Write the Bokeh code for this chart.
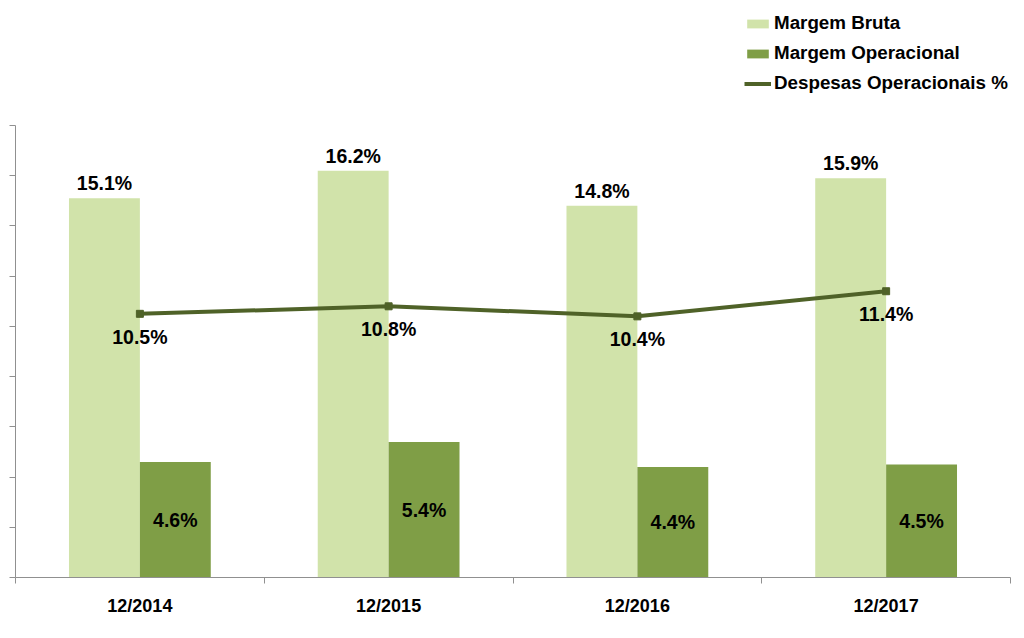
from bokeh.plotting import figure
from bokeh.models import ColumnDataSource, Range1d, FixedTicker, Legend, LegendItem
from bokeh.embed import file_html
from bokeh.resources import INLINE
from bokeh.core.properties import value

categories = ["12/2014", "12/2015", "12/2016", "12/2017"]
margem_bruta = [15.1, 16.2, 14.8, 15.9]
margem_operacional = [4.6, 5.4, 4.4, 4.5]
despesas_operacionais = [10.5, 10.8, 10.4, 11.4]
y_ticks = [0, 2, 4, 6, 8, 10, 12, 14, 16, 18]

FONT = "Liberation Sans"
LIGHT = "#D1E3AA"
DARK = "#7F9E46"
LINE = "#4F6228"
AXIS = "#909090"

n = len(categories)
bw = 0.285
centers = [i + 0.5 for i in range(n)]
src = ColumnDataSource(dict(
    xc=centers,
    xl=[c - bw / 2 for c in centers],
    xr=[c + bw / 2 for c in centers],
    mb=margem_bruta,
    mo=margem_operacional,
    mo_half=[v / 2 for v in margem_operacional],
    dp=despesas_operacionais,
    mb_lbl=[f"{v:.1f}%" for v in margem_bruta],
    mo_lbl=[f"{v:.1f}%" for v in margem_operacional],
    dp_lbl=[f"{v:.1f}%" for v in despesas_operacionais],
))

frame_h = 577
px_per_unit = 452 / 18.0
p = figure(width=1022, height=636, output_backend="svg", toolbar_location=None,
           x_range=Range1d(0, n), y_range=Range1d(0, frame_h / px_per_unit),
           min_border_left=15, min_border_right=12, min_border_top=0, min_border_bottom=59)
p.outline_line_color = None
p.xgrid.grid_line_color = None
p.ygrid.grid_line_color = None
p.background_fill_color = "white"
p.border_fill_color = "white"

r_mb = p.vbar(x="xl", top="mb", width=bw, source=src, fill_color=LIGHT, line_color=None)
r_mo = p.vbar(x="xr", top="mo", width=bw, source=src, fill_color=DARK, line_color=None)
r_ln = p.line(x="xc", y="dp", source=src, line_color=LINE, line_width=4)
p.scatter(x="xc", y="dp", source=src, marker="square", size=7, fill_color=LINE, line_color=LINE)

common = dict(text_font=value(FONT), text_font_style="bold", text_font_size="19.5px",
              text_color="black", text_align="center", source=src)
p.text(x="xl", y="mb", text="mb_lbl", text_baseline="bottom", y_offset=-4, **common)
p.text(x="xr", y="mo_half", text="mo_lbl", text_baseline="middle", **common)
p.text(x="xc", y="dp", text="dp_lbl", text_baseline="top", y_offset=12, **common)

# x axis: labels at category centres, small ticks at category edges
p.xaxis.ticker = FixedTicker(ticks=centers, minor_ticks=list(range(n + 1)))
p.xaxis.major_label_overrides = {c: lbl for c, lbl in zip(centers, categories)}
p.xaxis.major_tick_line_color = None
p.xaxis.major_tick_out = 0
p.xaxis.major_tick_in = 0
p.xaxis.minor_tick_out = 6
p.xaxis.minor_tick_in = 0
p.xaxis.minor_tick_line_color = AXIS
p.xaxis.axis_line_color = AXIS
p.xaxis.major_label_text_font = FONT
p.xaxis.major_label_text_font_style = "bold"
p.xaxis.major_label_text_font_size = "18px"
p.xaxis.major_label_text_color = "black"
p.xaxis.major_label_standoff = 12

p.yaxis.ticker = FixedTicker(ticks=y_ticks)
p.yaxis.bounds = (0, 18)
p.yaxis.major_label_overrides = {t: "" for t in y_ticks}
p.yaxis.major_label_standoff = 0
p.yaxis.major_tick_out = 6
p.yaxis.major_tick_in = 0
p.yaxis.minor_tick_line_color = None
p.yaxis.axis_line_color = AXIS
p.yaxis.major_tick_line_color = AXIS

legend = Legend(items=[
    LegendItem(label="Margem Bruta", renderers=[r_mb]),
    LegendItem(label="Margem Operacional", renderers=[r_mo]),
    LegendItem(label="Despesas Operacionais %", renderers=[r_ln]),
], location=(729, 483))
legend.label_text_font = FONT
legend.label_text_font_style = "bold"
legend.label_text_font_size = "18.8px"
legend.label_text_color = "black"
legend.glyph_width = 27
legend.glyph_height = 11
legend.label_standoff = 3
legend.label_height = 20
legend.spacing = 8
legend.padding = 3
legend.margin = 0
legend.border_line_color = None
legend.background_fill_alpha = 0
p.add_layout(legend)

open("out.html", "w").write(file_html(p, INLINE))
